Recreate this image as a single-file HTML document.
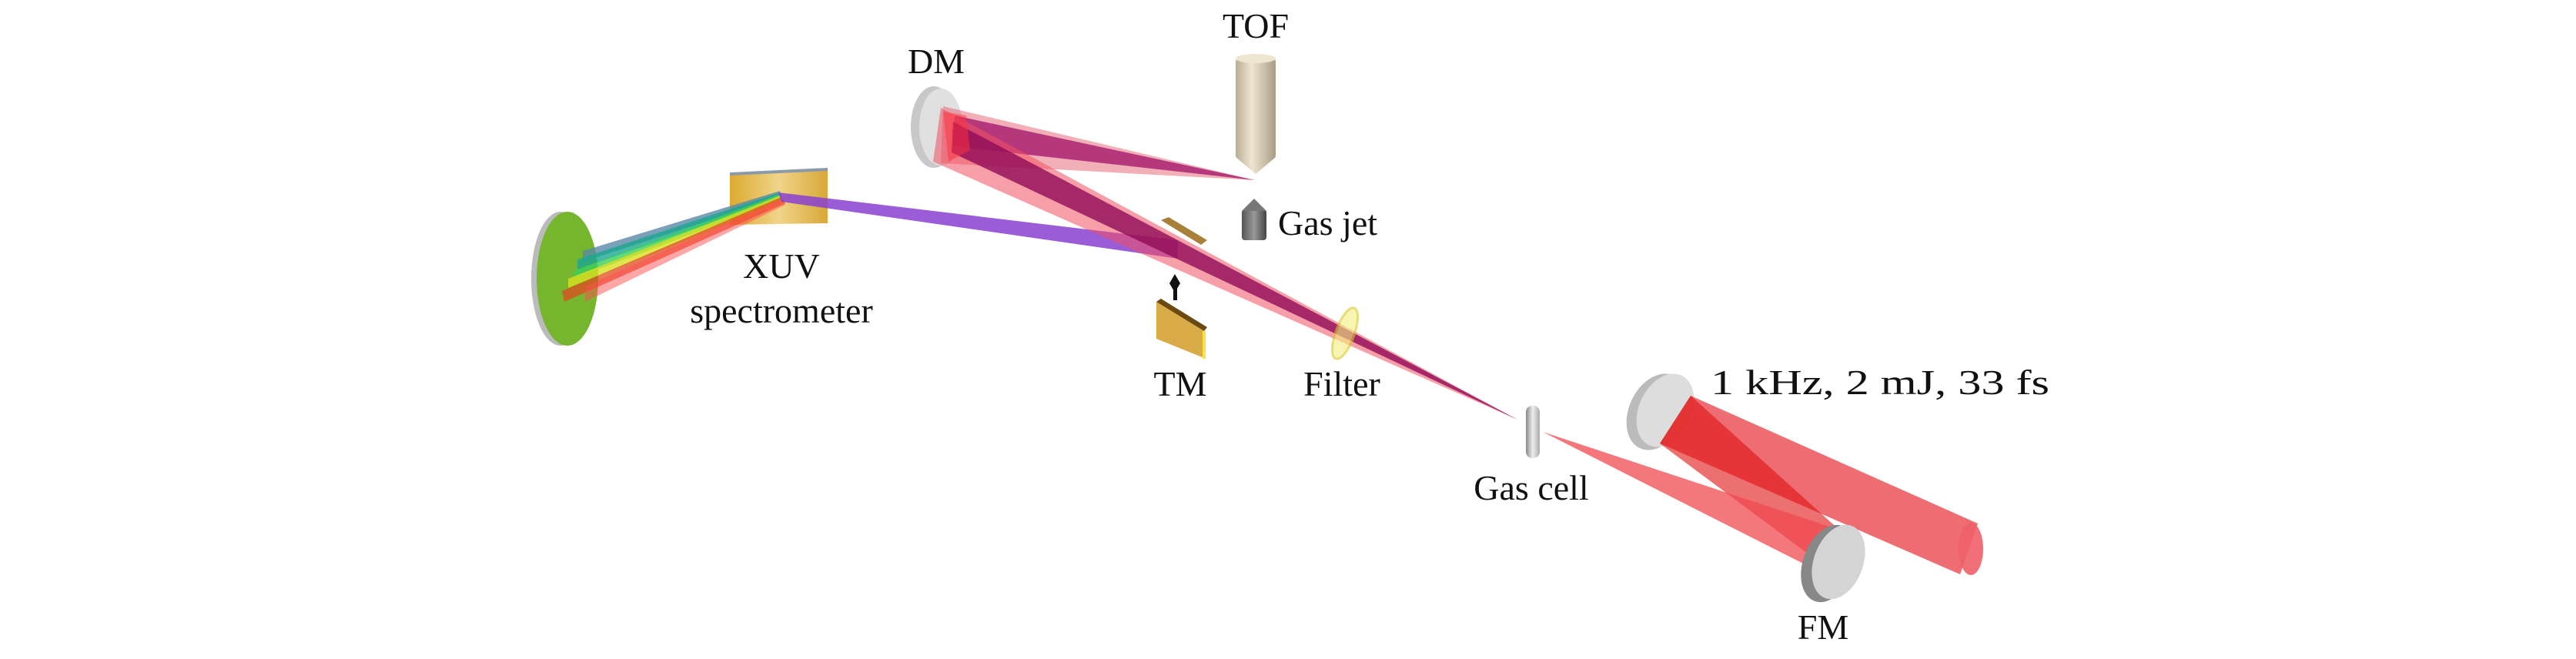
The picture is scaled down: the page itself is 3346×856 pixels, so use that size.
<!DOCTYPE html>
<html><head><meta charset="utf-8"><style>
html,body{margin:0;padding:0;background:#fff;}
svg{display:block;}
</style></head><body>
<svg width="3346" height="856" viewBox="0 0 3346 856" xmlns="http://www.w3.org/2000/svg">
<defs>
<linearGradient id="gold" x1="0" x2="1" y1="0" y2="0">
<stop offset="0" stop-color="#dcaa30"/><stop offset="0.5" stop-color="#f0d488"/><stop offset="1" stop-color="#d8a838"/></linearGradient>
<linearGradient id="tof" x1="0" x2="1"><stop offset="0" stop-color="#b8ad96"/><stop offset="0.4" stop-color="#efe6d2"/><stop offset="1" stop-color="#a89c84"/></linearGradient>
<linearGradient id="gray" x1="0" x2="1"><stop offset="0" stop-color="#555"/><stop offset="0.5" stop-color="#999"/><stop offset="1" stop-color="#444"/></linearGradient>
<linearGradient id="rod" x1="0" x2="1"><stop offset="0" stop-color="#888"/><stop offset="0.5" stop-color="#eee"/><stop offset="1" stop-color="#aaa"/></linearGradient>
</defs>

<!-- green detector -->
<ellipse cx="728" cy="362" rx="38" ry="87" fill="#bbb"/>
<ellipse cx="737" cy="362" rx="40" ry="87" fill="#76b52e"/>

<!-- grating -->
<polygon points="948,226 1075,220 1075,290 948,292" fill="url(#gold)"/>
<line x1="948" y1="226" x2="1075" y2="220" stroke="#8a9aa8" stroke-width="4"/>

<!-- spectrum beams -->
<polygon points="1013,248 757,326 757,340 1015,256" fill="#5a8aa8" opacity="0.8"/>
<polygon points="1013,250 750,337 750,350 1015,258" fill="#1aa890" opacity="0.8"/>
<polygon points="1013,252 745,352 745,362 1015,260" fill="#3ccf5a" opacity="0.8"/>
<polygon points="1013,254 738,362 738,374 1015,262" fill="#d8e020" opacity="0.8"/>
<polygon points="1015,256 730,378 733,392 1020,264" fill="#e04a20" opacity="0.75"/>
<polygon points="1015,258 760,372 760,392 1020,266" fill="#ff5050" opacity="0.5"/>

<!-- purple beam grating -> TM -->
<polygon points="1011,250 1530,312 1530,336 1015,262" fill="#8a3fd0" opacity="0.85"/>

<!-- DM mirror -->
<ellipse cx="1213" cy="165" rx="30" ry="53" fill="#c8c8c8"/>
<ellipse cx="1222" cy="165" rx="28" ry="50" fill="#e0e0e0"/>

<!-- beam DM -> TOF tip -->
<polygon points="1225,138 1630,234 1222,212" fill="#e86070" opacity="0.5"/>
<polygon points="1240,150 1630,234 1238,190" fill="#a0106a" opacity="0.75"/>
<!-- beam DM -> gas cell -->
<polygon points="1222,140 1971,545 1212,210" fill="#f05060" opacity="0.55"/>
<polygon points="1238,158 1971,545 1236,198" fill="#900a58" opacity="0.8"/>
<polygon points="1225,145 1255,150 1260,195 1232,210" fill="#ff3040" opacity="0.5"/>

<!-- TM plate in beam -->
<polygon points="1508,286 1518,282 1568,312 1560,318" fill="#9a6a18" opacity="0.85"/>

<!-- TOF -->
<rect x="1605" y="76" width="52" height="130" rx="4" fill="url(#tof)"/>
<ellipse cx="1631" cy="76" rx="26" ry="6" fill="#efe6d2"/>
<polygon points="1605,204 1657,204 1631,226" fill="url(#tof)"/>

<!-- gas jet -->
<rect x="1613" y="272" width="32" height="40" rx="4" fill="url(#gray)"/>
<polygon points="1613,274 1645,274 1629,258" fill="#777"/>

<!-- TM -->
<polygon points="1526,356 1533,368 1526,380 1519,368" fill="#111"/>
<rect x="1524" y="368" width="5" height="22" fill="#111"/>
<polygon points="1502,392 1564,430 1564,465 1502,440" fill="#d8aa48"/>
<polygon points="1502,392 1508,388 1568,425 1564,430" fill="#6a4a10"/>
<rect x="1562" y="430" width="4" height="36" fill="#ffe040"/>

<!-- filter -->
<ellipse cx="1747" cy="433" rx="12" ry="35" transform="rotate(20 1747 433)" fill="#f4f080" opacity="0.6" stroke="#d8c820" stroke-width="3"/>

<!-- gas cell -->
<rect x="1982" y="527" width="18" height="68" rx="8" fill="url(#rod)"/>

<!-- upper right mirror -->
<ellipse cx="2152" cy="535" rx="36" ry="52" transform="rotate(25 2152 535)" fill="#bbb"/>
<ellipse cx="2163" cy="533" rx="34" ry="50" transform="rotate(25 2163 533)" fill="#ddd"/>

<!-- collimated beam -->
<polygon points="2196,514 2569,680 2546,746 2156,576" fill="#e84850" opacity="0.8"/>
<ellipse cx="2560" cy="713" rx="16" ry="34" fill="#f06068" opacity="0.9"/>
<!-- beam mirror -> FM -->
<polygon points="2196,514 2402,700 2360,728 2156,576" fill="#e01010" opacity="0.6"/>
<!-- cone gas cell -> FM -->
<polygon points="2004,561 2388,688 2362,742" fill="#f04a50" opacity="0.75"/>

<!-- FM mirror -->
<ellipse cx="2375" cy="732" rx="33" ry="52" transform="rotate(20 2375 732)" fill="#888"/>
<ellipse cx="2388" cy="730" rx="32" ry="50" transform="rotate(20 2388 730)" fill="#d4d4d4"/>

<!-- labels -->
<g font-family="Liberation Serif, DejaVu Serif, serif" font-size="46" fill="#111">
<text x="1631" y="49" text-anchor="middle">TOF</text>
<text x="1216" y="95" text-anchor="middle">DM</text>
<text x="1660" y="305">Gas jet</text>
<text x="1015" y="361" text-anchor="middle">XUV</text>
<text x="1015" y="419" text-anchor="middle">spectrometer</text>
<text x="1533" y="514" text-anchor="middle">TM</text>
<text x="1743" y="514" text-anchor="middle">Filter</text>
<text x="1989" y="649" text-anchor="middle">Gas cell</text>
<text x="2222" y="512" textLength="440" lengthAdjust="spacingAndGlyphs">1 kHz, 2 mJ, 33 fs</text>
<text x="2368" y="830" text-anchor="middle">FM</text>
</g>
</svg>
</body></html>
